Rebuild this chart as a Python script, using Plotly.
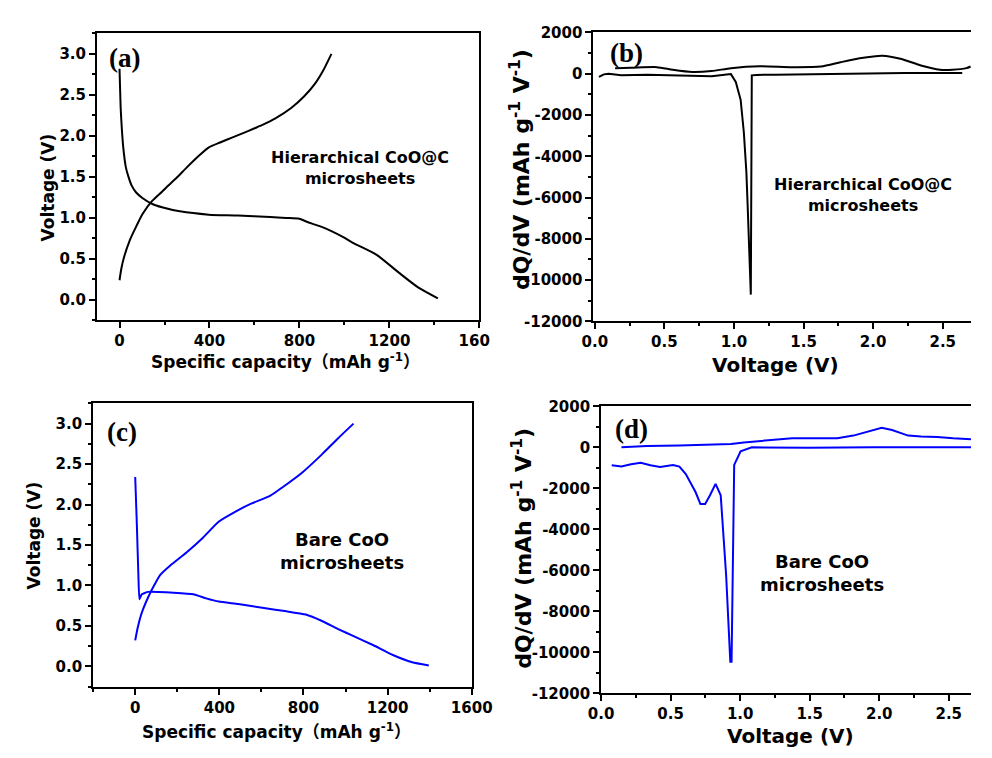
import plotly.graph_objects as go

# ---------------- data ----------------
# (a) Hierarchical CoO@C microsheets, voltage profiles
a_dis_cap = [0, 5, 10, 17, 28, 40, 53, 74, 103, 146, 189, 268, 397, 526, 670, 741, 799, 827, 856, 899, 942, 999, 1042, 1143, 1243, 1329, 1415]
a_dis_v = [2.82, 2.35, 2.10, 1.85, 1.62, 1.50, 1.40, 1.31, 1.24, 1.17, 1.13, 1.08, 1.04, 1.03, 1.01, 1.00, 0.99, 0.96, 0.93, 0.89, 0.84, 0.76, 0.69, 0.55, 0.33, 0.15, 0.02]
a_chg_cap = [0, 8, 20, 46, 75, 103, 146, 189, 211, 254, 297, 354, 397, 447, 500, 555, 598, 640, 691, 763, 820, 870, 906, 942]
a_chg_v = [0.24, 0.38, 0.52, 0.73, 0.90, 1.05, 1.21, 1.32, 1.38, 1.49, 1.61, 1.76, 1.86, 1.92, 1.98, 2.04, 2.09, 2.14, 2.21, 2.34, 2.48, 2.64, 2.80, 3.0]

# (b) Hierarchical CoO@C microsheets, dQ/dV
b_chg_v = [0.146, 0.26, 0.446, 0.56, 0.70, 0.84, 0.978, 1.186, 1.418, 1.626, 1.765, 1.903, 2.065, 2.204, 2.343, 2.48, 2.57, 2.67, 2.70]
b_chg_q = [269, 285, 317, 190, 80, 127, 269, 364, 317, 348, 554, 744, 870, 712, 396, 190, 190, 270, 350]
b_dis_v = [0.03, 0.065, 0.10, 0.19, 0.377, 0.61, 0.84, 0.932, 0.978, 1.013, 1.048, 1.071, 1.089, 1.098, 1.108, 1.115, 1.121, 1.128, 1.163, 1.30, 1.765, 2.227, 2.64]
b_dis_q = [-158, -32, 0, -79, -47, -79, -127, -47, -20, -396, -1266, -2849, -4749, -6332, -7915, -9498, -10701, -79, -60, -47, 0, 32, 32]

# (c) Bare CoO microsheets, voltage profiles
c_dis_cap = [0, 8, 15, 20, 31, 61, 107, 184, 276, 337, 398, 490, 612, 720, 811, 888, 965, 1041, 1133, 1225, 1317, 1396]
c_dis_v = [2.34, 1.73, 1.13, 0.83, 0.89, 0.92, 0.92, 0.91, 0.89, 0.84, 0.80, 0.77, 0.72, 0.68, 0.64, 0.56, 0.46, 0.37, 0.26, 0.14, 0.05, 0.01]
c_chg_cap = [0, 12, 31, 61, 92, 119, 168, 245, 322, 398, 475, 551, 643, 704, 796, 888, 965, 1038]
c_chg_v = [0.32, 0.48, 0.66, 0.85, 1.01, 1.13, 1.25, 1.41, 1.59, 1.79, 1.91, 2.01, 2.11, 2.22, 2.40, 2.62, 2.82, 3.0]

# (d) Bare CoO microsheets, dQ/dV
d_chg_v = [0.146, 0.33, 0.563, 0.795, 0.934, 1.026, 1.165, 1.258, 1.374, 1.49, 1.606, 1.698, 1.814, 1.907, 2.018, 2.092, 2.208, 2.30, 2.417, 2.532, 2.662]
d_chg_q = [0, 64, 95, 127, 159, 239, 334, 398, 445, 445, 430, 445, 573, 764, 955, 843, 573, 525, 509, 445, 398]
d_dis_v = [0.076, 0.146, 0.215, 0.285, 0.354, 0.424, 0.517, 0.563, 0.609, 0.679, 0.714, 0.748, 0.783, 0.823, 0.86, 0.899, 0.929, 0.938, 0.957, 1.003, 1.084, 1.258, 1.49, 1.953, 2.662]
d_dis_q = [-875, -939, -827, -748, -875, -955, -859, -939, -1305, -2180, -2768, -2768, -2339, -1782, -2339, -6237, -10453, -10453, -859, -191, 0, -16, -16, 0, 0]

# tick labels
cap_ticks = [0, 400, 800, 1200, 1600]
cap_labels = ["0", "400", "800", "1200", "1600"]
volt_ticks = [0.0, 0.5, 1.0, 1.5, 2.0, 2.5, 3.0]
volt_labels = ["0.0", "0.5", "1.0", "1.5", "2.0", "2.5", "3.0"]
dv_ticks = [0.0, 0.5, 1.0, 1.5, 2.0, 2.5]
dv_labels = ["0.0", "0.5", "1.0", "1.5", "2.0", "2.5"]
dq_ticks = [-12000, -10000, -8000, -6000, -4000, -2000, 0, 2000]
dq_labels = ["-12000", "-10000", "-8000", "-6000", "-4000", "-2000", "0", "2000"]

BLACK = "#000000"
BLUE = "#0000ff"
W, H = 992, 758

fig = go.Figure()

def add(x, y, color, xa, ya, shape="spline", smoothing=0.6):
    fig.add_trace(go.Scatter(x=x, y=y, mode="lines", xaxis=xa, yaxis=ya,
                             line=dict(color=color, width=2, shape=shape, smoothing=smoothing),
                             showlegend=False, hoverinfo="skip"))

add(a_dis_cap, a_dis_v, BLACK, "x", "y")
add(a_chg_cap, a_chg_v, BLACK, "x", "y")
add(b_chg_v, b_chg_q, BLACK, "x2", "y2")
add(b_dis_v, b_dis_q, BLACK, "x2", "y2", shape="linear")
add(c_dis_cap, c_dis_v, BLUE, "x3", "y3", smoothing=0.4)
add(c_chg_cap, c_chg_v, BLUE, "x3", "y3")
add(d_chg_v, d_chg_q, BLUE, "x4", "y4", shape="linear")
add(d_dis_v, d_dis_q, BLUE, "x4", "y4", shape="linear")

SANS = "DejaVu Sans, Noto Sans CJK SC"
tickfont = dict(family=SANS, size=15, color="black", weight="bold")

def px_x(p):
    return p / W

def px_y(p):
    return 1 - p / H

def axis(domain, rng, tv, tt, anchor, mirror, minor_dtick, minor_tick0=0):
    return dict(domain=domain, range=rng, anchor=anchor, tickmode="array",
                tickvals=tv, ticktext=tt, ticks="outside", ticklen=6, tickwidth=2,
                tickcolor="black", showline=True, linewidth=2, linecolor="black",
                mirror=mirror, showgrid=False, zeroline=False, tickfont=tickfont,
                minor=dict(tickmode="linear", tick0=minor_tick0, dtick=minor_dtick,
                           ticks="outside", ticklen=3, tickwidth=1.5, tickcolor="black",
                           showgrid=False))

layout = dict(
    width=W, height=H, margin=dict(l=0, r=0, t=0, b=0),
    paper_bgcolor="white", plot_bgcolor="white",
    xaxis=axis([px_x(87), px_x(483)], [-100, 1600], cap_ticks, cap_labels, "y", True, 200),
    yaxis=axis([px_y(319), px_y(25)], [-0.25, 3.25], volt_ticks, volt_labels, "x", True, 0.25),
    xaxis2=axis([px_x(601), 1.0], [-0.01, 2.703], dv_ticks, dv_labels, "y2", True, 0.25),
    yaxis2=axis([px_y(320), px_y(24)], [-12000, 2000], dq_ticks, dq_labels, "x2", False, 1000),
    xaxis3=axis([px_x(83), px_x(475)], [-200, 1600], cap_ticks, cap_labels, "y3", True, 200),
    yaxis3=axis([px_y(694), px_y(404)], [-0.25, 3.25], volt_ticks, volt_labels, "x3", True, 0.25),
    xaxis4=axis([px_x(609), 1.0], [0, 2.66], dv_ticks, dv_labels, "y4", True, 0.25),
    yaxis4=axis([px_y(701), px_y(407)], [-12000, 2000], dq_ticks, dq_labels, "x4", False, 1000),
)
fig.update_layout(**layout)

annotations = []

def txt(x, y, text, size, family=SANS, angle=0, weight="bold"):
    annotations.append(dict(x=px_x(x), y=px_y(y), xref="paper", yref="paper",
                            text=text, showarrow=False, textangle=angle,
                            xanchor="center", yanchor="middle", align="center",
                            font=dict(family=family, size=size, color="black", weight=weight)))

cap_title = "Specific capacity（mAh g<sup>-1</sup>）"
dq_title = "dQ/dV (mAh g<sup>-1</sup> V<sup>-1</sup>)"

# axis titles
txt(282, 361, cap_title, 17)
txt(36, 183, "Voltage (V)", 17, angle=-90)
txt(790, 365, "Voltage (V)", 20)
txt(525, 165, dq_title, 22, angle=-90)
txt(273, 740, cap_title, 17)
txt(22, 539, "Voltage (V)", 17, angle=-90)
txt(805, 745, "Voltage (V)", 20)
txt(527, 552, dq_title, 22, angle=-90)

# panel letters
txt(115, 50, "(a)", 27, family="Liberation Serif")
txt(635, 45, "(b)", 27, family="Liberation Serif")
txt(113, 433, "(c)", 27, family="Liberation Serif")
txt(640, 430, "(d)", 27, family="Liberation Serif")

# sample labels
txt(359, 163, "Hierarchical CoO@C<br>microsheets", 16)
txt(880, 191, "Hierarchical CoO@C<br>microsheets", 16)
txt(341, 555, "Bare CoO<br>microsheets", 18)
txt(838, 578, "Bare CoO<br>microsheets", 18)

fig.update_layout(annotations=annotations)

# the source figure crops panel (a)'s last tick label
fig.add_shape(type="rect", xref="paper", yref="paper", x0=px_x(494), x1=px_x(520),
              y0=px_y(352), y1=px_y(327), fillcolor="white", line=dict(width=0), layer="above")

fig.write_html("out.html")
